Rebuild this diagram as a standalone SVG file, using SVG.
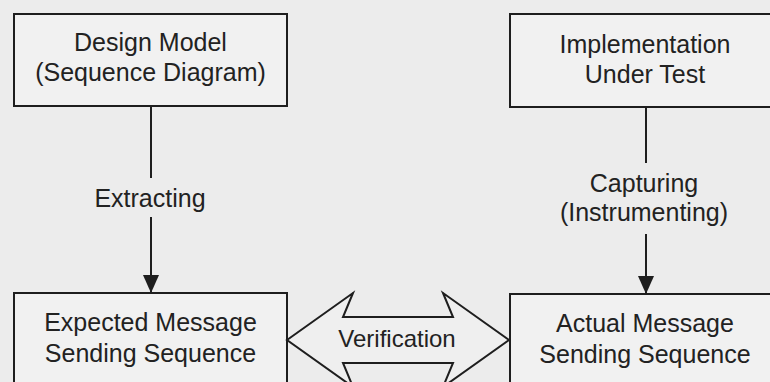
<svg xmlns="http://www.w3.org/2000/svg" width="770" height="382" viewBox="0 0 770 382">
<style>
.box{fill:#f1f1f1;stroke:#1e1e1e;stroke-width:2}
.t{font-family:"Liberation Sans",Arial,sans-serif;font-size:25px;fill:#222;text-anchor:middle}
.c{stroke:#1e1e1e;stroke-width:2;fill:none}
</style>
<defs>
<marker id="ah" viewBox="0 0 18 16" refX="18" refY="8" markerWidth="18" markerHeight="16" markerUnits="userSpaceOnUse" orient="auto">
<path d="M0,0 L18,8 L0,16 Z" fill="#1e1e1e"/>
</marker>
</defs>
<rect width="770" height="382" fill="#ececec"/>
<g id="design-model">
<rect class="box" x="14" y="14" width="273" height="92"/>
<text class="t" x="150.5" y="51">Design Model</text>
<text class="t" x="150.5" y="81">(Sequence Diagram)</text>
</g>
<g id="implementation">
<rect class="box" x="510" y="14" width="273" height="93"/>
<text class="t" x="645" y="53">Implementation</text>
<text class="t" x="645" y="83">Under Test</text>
</g>
<g id="expected">
<rect class="box" x="14" y="293" width="273" height="100"/>
<text class="t" x="150.5" y="331">Expected Message</text>
<text class="t" x="150.5" y="362">Sending Sequence</text>
</g>
<g id="actual">
<rect class="box" x="510" y="294" width="273" height="100"/>
<text class="t" x="645" y="332">Actual Message</text>
<text class="t" x="645" y="363">Sending Sequence</text>
</g>
<g id="connectors">
<line class="c" x1="151" y1="106" x2="151" y2="178"/>
<line class="c" x1="151" y1="217" x2="151" y2="293" marker-end="url(#ah)"/>
<text class="t" x="150" y="207">Extracting</text>
<line class="c" x1="646" y1="107" x2="646" y2="163"/>
<line class="c" x1="646" y1="234" x2="646" y2="294" marker-end="url(#ah)"/>
<text class="t" x="644" y="192">Capturing</text>
<text class="t" x="644" y="221">(Instrumenting)</text>
<g id="verification">
<polygon points="287,340 353,293 343,317 453,317 443,293 509,340 443,387 453,363 343,363 353,387" fill="#efefef" stroke="#1e1e1e" stroke-width="2" stroke-linejoin="miter"/>
<text class="t" x="397" y="347" style="font-size:24px">Verification</text>
</g>
</g>
</svg>
